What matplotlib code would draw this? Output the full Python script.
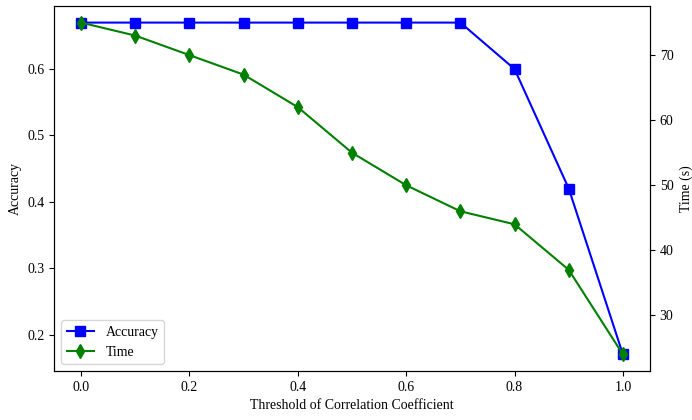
import matplotlib
matplotlib.use("Agg")
import matplotlib.pyplot as plt

plt.rcParams['font.family'] = ['Liberation Serif', 'DejaVu Serif']
plt.rcParams['font.size'] = 10

thresholds = [0.0, 0.1, 0.2, 0.3, 0.4, 0.5, 0.6, 0.7, 0.8, 0.9, 1.0]
accuracy = [0.67, 0.67, 0.67, 0.67, 0.67, 0.67, 0.67, 0.67, 0.60, 0.42, 0.17]
time_s = [75, 73, 70, 67, 62, 55, 50, 46, 44, 37, 24]

fig = plt.figure(figsize=(6.92, 4.2), dpi=100)
ax1 = fig.add_axes([54 / 692, 49 / 420, 596 / 692, 365 / 420])
ax2 = ax1.twinx()

l1, = ax1.plot(thresholds, accuracy, color='blue', marker='s', markersize=7, label='Accuracy')
l2, = ax2.plot(thresholds, time_s, color='green', marker='d', markersize=7, label='Time')

ax1.set_xlabel('Threshold of Correlation Coefficient')
ax1.set_ylabel('Accuracy')
ax2.set_ylabel('Time (s)')

ax1.legend(handles=[l1, l2], loc='lower left')

fig.savefig('out.png', dpi=100)
